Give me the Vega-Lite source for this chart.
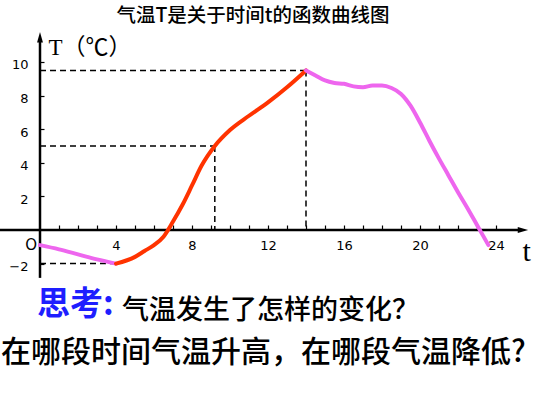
{
  "$schema": "https://vega.github.io/schema/vega-lite/v6.json",
  "width": 542,
  "height": 393,
  "padding": 0,
  "autosize": {"type": "none"},
  "background": "white",
  "config": {"view": {"stroke": null}},
  "title": {
    "text": "气温T是关于时间t的函数曲线图",
    "font": "Noto Sans CJK SC",
    "fontSize": 19.5,
    "fontWeight": 500,
    "color": "black",
    "anchor": "middle",
    "frame": "group",
    "offset": -26,
    "dx": -18
  },
  "encoding": {
    "x": {
      "field": "t",
      "type": "quantitative",
      "scale": {"domain": [-2.1053, 26.421], "nice": false, "zero": false},
      "axis": {
        "orient": "bottom",
        "offset": -163,
        "domain": false,
        "grid": false,
        "values": [1,2,3,4,5,6,7,8,9,10,11,12,13,14,15,16,17,18,19,20,21,22,23,24],
        "tickSize": -5,
        "tickColor": "black",
        "tickWidth": 1.2,
        "labelExpr": "datum.value % 4 == 0 ? datum.label : ''",
        "labelFont": "DejaVu Sans",
        "labelFontSize": 13,
        "labelColor": "black",
        "labelPadding": 14,
        "labelFlush": false,
        "labelOverlap": false,
        "labelBound": false,
        "title": "t",
        "titleFont": "Liberation Serif",
        "titleFontSize": 30,
        "titleFontWeight": "normal",
        "titleColor": "black",
        "titleAlign": "left",
        "titleBaseline": "alphabetic",
        "titleX": 522,
        "titleY": 30
      }
    },
    "y": {
      "field": "T",
      "type": "quantitative",
      "scale": {"domain": [-9.702, 13.690], "nice": false, "zero": false},
      "axis": {
        "orient": "left",
        "offset": -40,
        "domain": false,
        "grid": false,
        "values": [-2, 2, 4, 6, 8, 10],
        "tickSize": -4,
        "tickColor": "black",
        "tickWidth": 1.2,
        "labelFont": "DejaVu Sans",
        "labelFontSize": 13,
        "labelColor": "black",
        "labelPadding": 16,
        "labelOffset": 3,
        "labelOverlap": false,
        "labelBound": false,
        "labelFlush": false,
        "title": "T（℃）",
        "titleAngle": 0,
        "titleAlign": "left",
        "titleBaseline": "alphabetic",
        "titleFont": "Liberation Serif, Noto Sans CJK SC",
        "titleFontSize": 23,
        "titleFontWeight": "normal",
        "titleColor": "black",
        "titleX": 8,
        "titleY": 54
      }
    }
  },
  "layer": [
    {
      "data": {"values": [
        {"t": 0, "t2": 14, "T": 9.5, "T2": 9.5},
        {"t": 0, "t2": 9.2, "T": 5, "T2": 5},
        {"t": 0, "t2": 4, "T": -2, "T2": -2},
        {"t": 9.2, "t2": 9.2, "T": 5, "T2": 0},
        {"t": 14, "t2": 14, "T": 9.5, "T2": 0}
      ]},
      "mark": {"type": "rule", "color": "black", "strokeWidth": 1.5, "strokeDash": [6, 4]},
      "encoding": {"x2": {"field": "t2"}, "y2": {"field": "T2"}}
    },
    {
      "data": {"values": [
        {"t": -2.2, "t2": 25.2, "T": 0, "T2": 0},
        {"t": 0, "t2": 0, "T": -2.85, "T2": 11.2}
      ]},
      "mark": {"type": "rule", "color": "black", "strokeWidth": 2.5},
      "encoding": {"x2": {"field": "t2"}, "y2": {"field": "T2"}}
    },
    {
      "data": {"values": [{"t": 25.35, "T": 0}]},
      "mark": {"type": "point", "filled": true, "color": "black", "opacity": 1, "size": 170, "shape": "M1,0L-0.6,-0.45L-0.6,0.45Z"}
    },
    {
      "data": {"values": [{"t": 0, "T": 11.4}]},
      "mark": {"type": "point", "filled": true, "color": "black", "opacity": 1, "size": 170, "shape": "M0,-1L0.45,0.6L-0.45,0.6Z"}
    },
    {
      "data": {"values": [
        {"seg": 1, "trend": "降", "t": 0, "T": -0.9},
        {"seg": 1, "trend": "降", "t": 1, "T": -1.15},
        {"seg": 1, "trend": "降", "t": 2, "T": -1.45},
        {"seg": 1, "trend": "降", "t": 3, "T": -1.75},
        {"seg": 1, "trend": "降", "t": 4, "T": -2},
        {"seg": 2, "trend": "升", "t": 4, "T": -2},
        {"seg": 2, "trend": "升", "t": 5, "T": -1.6},
        {"seg": 2, "trend": "升", "t": 5.5, "T": -1.25},
        {"seg": 2, "trend": "升", "t": 6, "T": -0.9},
        {"seg": 2, "trend": "升", "t": 6.5, "T": -0.4},
        {"seg": 2, "trend": "升", "t": 7, "T": 0.5},
        {"seg": 2, "trend": "升", "t": 7.5, "T": 1.5},
        {"seg": 2, "trend": "升", "t": 8, "T": 2.65},
        {"seg": 2, "trend": "升", "t": 8.5, "T": 3.82},
        {"seg": 2, "trend": "升", "t": 9.2, "T": 5},
        {"seg": 2, "trend": "升", "t": 10, "T": 5.95},
        {"seg": 2, "trend": "升", "t": 11, "T": 6.8},
        {"seg": 2, "trend": "升", "t": 12, "T": 7.6},
        {"seg": 2, "trend": "升", "t": 13, "T": 8.5},
        {"seg": 2, "trend": "升", "t": 14, "T": 9.5},
        {"seg": 3, "trend": "降", "t": 14, "T": 9.5},
        {"seg": 3, "trend": "降", "t": 14.5, "T": 9.2},
        {"seg": 3, "trend": "降", "t": 15, "T": 8.9},
        {"seg": 3, "trend": "降", "t": 15.5, "T": 8.75},
        {"seg": 3, "trend": "降", "t": 16, "T": 8.7},
        {"seg": 3, "trend": "降", "t": 16.5, "T": 8.55},
        {"seg": 3, "trend": "降", "t": 17, "T": 8.5},
        {"seg": 3, "trend": "降", "t": 17.5, "T": 8.6},
        {"seg": 3, "trend": "降", "t": 18, "T": 8.6},
        {"seg": 3, "trend": "降", "t": 18.5, "T": 8.45},
        {"seg": 3, "trend": "降", "t": 19, "T": 8.1},
        {"seg": 3, "trend": "降", "t": 19.5, "T": 7.4},
        {"seg": 3, "trend": "降", "t": 20, "T": 6.4},
        {"seg": 3, "trend": "降", "t": 20.5, "T": 5.3},
        {"seg": 3, "trend": "降", "t": 21, "T": 4.25},
        {"seg": 3, "trend": "降", "t": 21.5, "T": 3.25},
        {"seg": 3, "trend": "降", "t": 22, "T": 2.25},
        {"seg": 3, "trend": "降", "t": 22.5, "T": 1.3},
        {"seg": 3, "trend": "降", "t": 23, "T": 0.3},
        {"seg": 3, "trend": "降", "t": 23.6, "T": -0.9}
      ]},
      "mark": {"type": "line", "strokeWidth": 4, "interpolate": "monotone", "strokeCap": "round", "strokeJoin": "round"},
      "encoding": {
        "detail": {"field": "seg", "type": "nominal"},
        "color": {"field": "trend", "type": "nominal", "scale": {"domain": ["降", "升"], "range": ["#EE66EE", "#FF3300"]}, "legend": null}
      }
    },
    {
      "data": {"values": [{"t": -0.47, "T": -0.9, "label": "O"}]},
      "mark": {"type": "text", "font": "DejaVu Sans", "fontSize": 15, "color": "black", "align": "center", "baseline": "middle"},
      "encoding": {"text": {"field": "label"}}
    },
    {
      "data": {"values": [{"t": -0.16, "T": -4.46, "label": "思考:"}]},
      "mark": {"type": "text", "font": "Noto Sans CJK SC", "fontSize": 33, "fontWeight": "bold", "color": "#1E1EFF", "align": "left", "baseline": "middle"},
      "encoding": {"text": {"field": "label"}}
    },
    {
      "data": {"values": [{"t": 4.32, "T": -4.8, "label": "气温发生了怎样的变化？"}]},
      "mark": {"type": "text", "font": "Noto Sans CJK SC", "fontSize": 27, "fontWeight": 500, "color": "black", "align": "left", "baseline": "middle"},
      "encoding": {"text": {"field": "label"}}
    },
    {
      "data": {"values": [{"t": -2.05, "T": -7.35, "label": "在哪段时间气温升高，在哪段气温降低?"}]},
      "mark": {"type": "text", "font": "Noto Sans CJK SC", "fontSize": 30, "fontWeight": 500, "color": "black", "align": "left", "baseline": "middle"},
      "encoding": {"text": {"field": "label"}}
    }
  ]
}
